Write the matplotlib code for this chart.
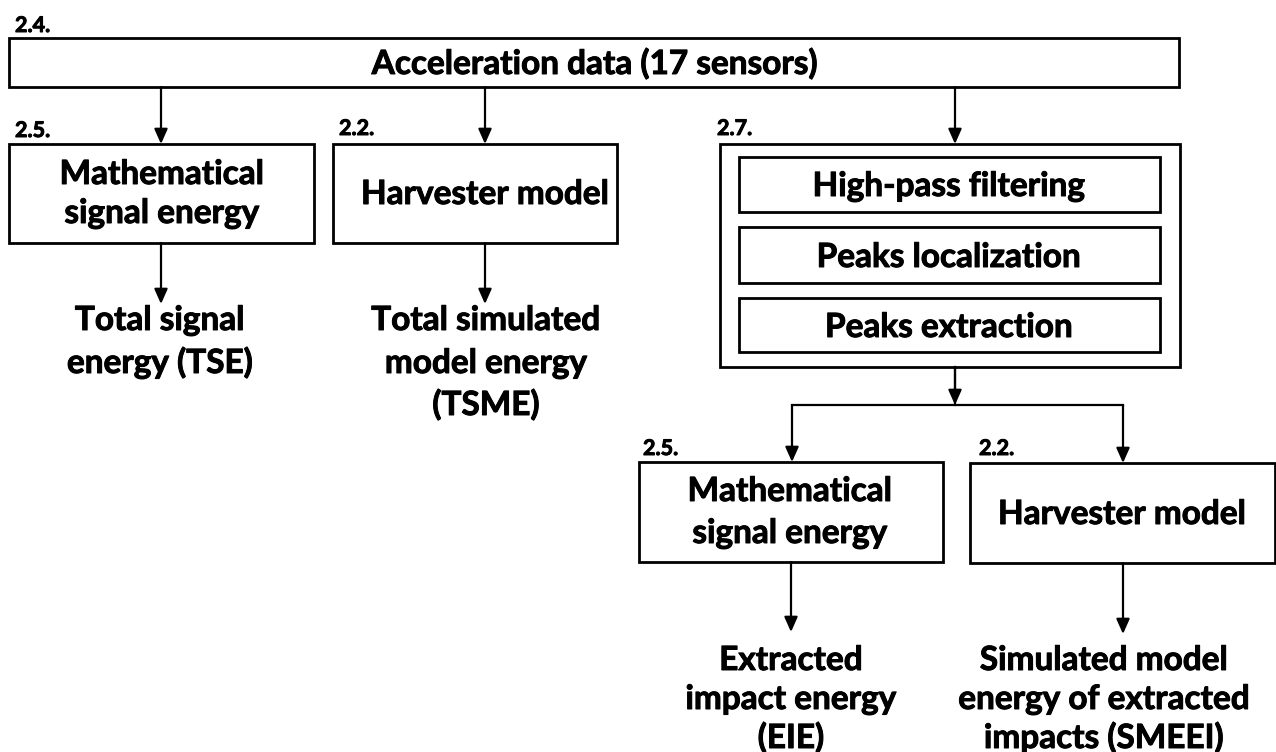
import matplotlib
matplotlib.use("Agg")
import matplotlib.pyplot as plt
from matplotlib.patches import Rectangle
import matplotlib.patheffects as pe

plt.rcParams['font.family'] = ['Lato', 'DejaVu Sans']

# ---- content ----
section_numbers = ["2.4.", "2.5.", "2.2.", "2.7.", "2.5.", "2.2."]
section_pos = [(15, 32), (15, 137), (339, 135), (717, 135), (643, 455), (979, 455)]

# boxes: (x0, y0, x1, y1) in pixel coordinates
boxes = [
    (9, 38, 1179, 87),      # acceleration data
    (9, 144, 314, 243),     # math signal energy (top)
    (333, 144, 617, 243),   # harvester model (top)
    (720, 144, 1180, 367),  # 2.7 container
    (739, 157, 1160, 212),  # high-pass
    (739, 227, 1160, 283),  # peaks localization
    (739, 298, 1160, 352),  # peaks extraction
    (639, 462, 943, 562),   # math signal energy (bottom)
    (970, 463, 1275, 563),  # harvester model (bottom)
]

box_texts = [
    ["Acceleration data (17 sensors)"],
    ["Mathematical", "signal energy"],
    ["Harvester model"],
    [],
    ["High-pass filtering"],
    ["Peaks localization"],
    ["Peaks extraction"],
    ["Mathematical", "signal energy"],
    ["Harvester model"],
]
box_text_x = [595, 162, 485, 0, 949, 949, 949, 790, 1122]
box_text_baselines = [[74], [184, 223], [204], [], [196], [267], [337], [501, 543], [524]]

output_texts = [
    ["Total signal", "energy (TSE)"],
    ["Total simulated", "model energy", "(TSME)"],
    ["Extracted", "impact energy", "(EIE)"],
    ["Simulated model", "energy of extracted", "impacts (SMEEI)"],
]
output_x = [160, 486, 791, 1104]
output_baselines = [[330, 373], [330, 373, 415], [670, 709, 748], [670, 709, 748]]

# arrows: (x, y_start, y_end)
arrows = [
    (161, 87, 144),
    (485, 87, 144),
    (955, 87, 144),
    (161, 243, 304),
    (485, 243, 304),
    (955, 367, 405),
    (792, 405, 462),
    (1123, 405, 463),
    (791, 562, 632),
    (1123, 563, 634),
]
branch_line = ((792, 1123), 405)

# ---- drawing ----
fig = plt.figure(figsize=(12.76, 7.52), dpi=100)
ax = fig.add_axes([0, 0, 1, 1])
ax.set_xlim(0, 1276)
ax.set_ylim(752, 0)
ax.axis('off')

FS = 24
thick = [pe.Stroke(linewidth=0.7, foreground='black'), pe.Normal()]

for (x0, y0, x1, y1) in boxes:
    ax.add_patch(Rectangle((x0, y0), x1 - x0, y1 - y0, fill=False,
                           edgecolor='black', linewidth=2.0, joinstyle='miter'))

for lines, x, bls in zip(box_texts, box_text_x, box_text_baselines):
    for line, b in zip(lines, bls):
        ax.text(x, b, line, ha='center', va='baseline', fontsize=FS,
                fontweight='bold', color='black', path_effects=thick)

for lines, x, bls in zip(output_texts, output_x, output_baselines):
    for line, b in zip(lines, bls):
        ax.text(x, b, line, ha='center', va='baseline', fontsize=FS,
                fontweight='bold', color='black', path_effects=thick)

for s, (x, y) in zip(section_numbers, section_pos):
    ax.text(x, y, s, ha='left', va='baseline', fontsize=15.5,
            fontweight='bold', color='black', path_effects=thick)

(bx0, bx1), by = branch_line
ax.plot([bx0, bx1], [by, by], color='black', linewidth=1.6,
        solid_capstyle='projecting')
ax.plot([955, 955], [367, 405], color='black', linewidth=1.6)

for (x, ys, ye) in arrows:
    ax.annotate('', xy=(x, ye), xytext=(x, ys),
                arrowprops=dict(arrowstyle='-|>,head_length=0.45,head_width=0.2',
                                mutation_scale=20, color='black', lw=1.6,
                                shrinkA=0, shrinkB=0))

fig.savefig('out.png', dpi=100, facecolor='white')
